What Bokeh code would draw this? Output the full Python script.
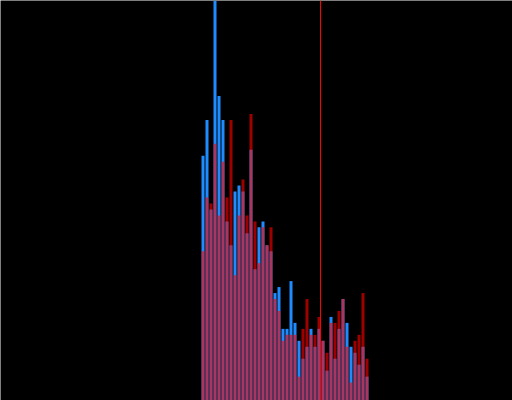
from bokeh.plotting import figure
from bokeh.models import Range1d, Span, ColumnDataSource
from bokeh.embed import file_html
from bokeh.resources import INLINE

# bin index of each histogram bar
bins = list(range(42))
# counts per bin, series A (blue) and series B (red, translucent, drawn on top)
blue_counts = [41, 47, 32, 67, 51, 47, 30, 26, 35, 36,
               35, 28, 42, 22, 29, 30, 26, 25, 18, 19,
               12, 12, 20, 13, 10, 7, 9, 12, 9, 12,
               10, 5, 14, 7, 12, 17, 13, 9, 8, 6,
               9, 4]
red_counts = [25, 34, 33, 43, 31, 40, 34, 47, 21, 31,
              37, 31, 48, 30, 23, 29, 26, 29, 17, 15,
              10, 11, 11, 11, 4, 12, 17, 11, 11, 14,
              10, 8, 13, 13, 15, 17, 9, 3, 10, 11,
              18, 7]
# marker position
threshold = 29.375

src = ColumnDataSource(dict(x=bins, blue=blue_counts, red=red_counts))

p = figure(width=512, height=400, output_backend="svg", toolbar_location=None,
           x_range=Range1d(-50.625, 77.375), y_range=Range1d(0, 67),
           min_border=0, background_fill_color="#000000", border_fill_color="#000000",
           outline_line_color=None)
p.axis.visible = False
p.grid.visible = False

p.vbar(x="x", top="blue", bottom=0, width=0.75, source=src,
       fill_color="#1E8CFF", line_color=None)
p.vbar(x="x", top="red", bottom=0, width=0.75, source=src,
       fill_color="#FF0000", fill_alpha=0.62, line_color=None)

p.add_layout(Span(location=threshold, dimension="height", line_color="#FF0000", line_width=1))

open("out.html", "w").write(file_html(p, INLINE))
